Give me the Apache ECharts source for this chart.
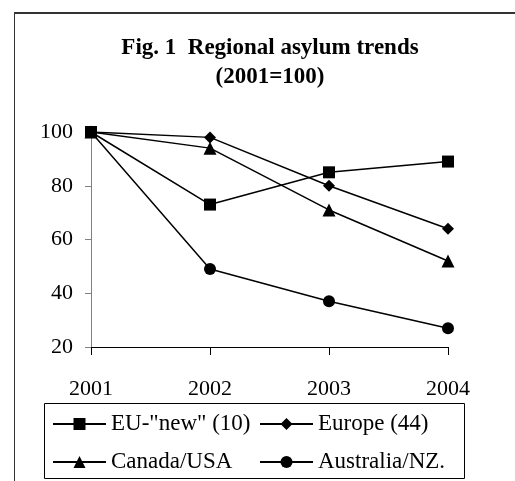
<!DOCTYPE html>
<html>
<head>
<meta charset="utf-8">
<script src="https://cdn.jsdelivr.net/npm/echarts@6/dist/echarts.min.js"></script>
<style>
  html, body { margin: 0; padding: 0; background: #fff; }
  #chart { width: 515px; height: 481px; }
</style>
</head>
<body>
<div id="chart"></div>
<script>
// index values, 2001 = 100
const years = ['2001', '2002', '2003', '2004']
const euNew = [100, 73, 85, 89]
const europe = [100, 98, 80, 64]
const canadaUsa = [100, 94, 71, 52]
const australiaNz = [100, 49, 37, 27]

const seriesNames = ['EU-"new" (10)', 'Europe (44)', 'Canada/USA', 'Australia/NZ.']
const seriesData = [euNew, europe, canadaUsa, australiaNz]
const symbols = ['rect', 'diamond', 'triangle', 'circle']
const symbolSizes = [12, 12, 13, 12]

const font = '"Liberation Serif", "Times New Roman", serif'

const chart = echarts.init(document.getElementById('chart'))

chart.setOption({
  backgroundColor: '#fff',
  animation: false,
  title: {
    text: 'Fig. 1  Regional asylum trends\n(2001=100)',
    left: 265,
    textAlign: 'center',
    top: 29,
    textStyle: {
      fontFamily: font,
      fontSize: 23,
      fontWeight: 'bold',
      color: '#000',
      lineHeight: 29
    }
  },
  grid: { left: 91, right: 67, top: 132, bottom: 134 },
  xAxis: {
    type: 'category',
    data: years,
    boundaryGap: false,
    axisLine: { lineStyle: { color: '#000', width: 1 } },
    axisTick: { show: true, alignWithLabel: true, length: 8, lineStyle: { color: '#000' } },
    axisLabel: { margin: 31, color: '#000', fontFamily: font, fontSize: 22 },
    splitLine: { show: false }
  },
  yAxis: {
    type: 'value',
    min: 20,
    max: 100,
    interval: 20,
    axisLine: { show: true, lineStyle: { color: '#808080', width: 1 } },
    axisTick: { show: true, length: 6, lineStyle: { color: '#808080' } },
    axisLabel: { margin: 18, color: '#000', fontFamily: font, fontSize: 22 },
    splitLine: { show: false }
  },
  legend: {
    left: 44,
    top: 406,
    width: 415,
    padding: [3, 4, 0, 8],
    itemGap: 8,
    itemWidth: 53,
    itemHeight: 15,
    textStyle: {
      fontFamily: font,
      fontSize: 23,
      color: '#000',
      width: 140,
      lineHeight: 30,
      overflow: 'none'
    },
    data: seriesNames
  },
  graphic: [
    { type: 'line', shape: { x1: 14, y1: 13, x2: 515, y2: 13 }, style: { stroke: '#333', lineWidth: 2 } },
    { type: 'line', shape: { x1: 14.5, y1: 12, x2: 14.5, y2: 481 }, style: { stroke: '#333', lineWidth: 1 } },
    // legend frame
    { type: 'rect', shape: { x: 44.5, y: 403.5, width: 420, height: 75 }, style: { fill: 'none', stroke: '#000', lineWidth: 1 } }
  ],
  series: seriesNames.map((name, i) => ({
    name,
    type: 'line',
    data: seriesData[i],
    symbol: symbols[i],
    symbolSize: symbolSizes[i],
    lineStyle: { color: '#000', width: 1.5 },
    itemStyle: { color: '#000' }
  }))
})
</script>
</body>
</html>
